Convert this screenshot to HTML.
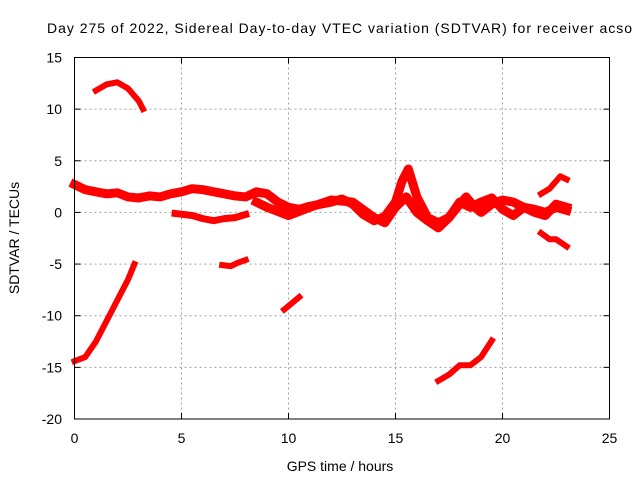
<!DOCTYPE html>
<html><head><meta charset="utf-8"><style>
body{margin:0;background:#fff}
svg text{font-family:"Liberation Sans",sans-serif;font-size:14px;fill:#000}
</style></head><body>
<svg id="chart" width="640" height="480" viewBox="0 0 640 480" xmlns="http://www.w3.org/2000/svg">
<text x="47" y="33" textLength="585" lengthAdjust="spacing">Day 275 of 2022, Sidereal Day-to-day VTEC variation (SDTVAR) for receiver acso</text>
<g id="grid"></g>
<g id="series"></g>
<rect x="74.5" y="57.5" width="535" height="361.5" fill="none" stroke="#000" stroke-width="1"/>
<g id="ticks"></g>
<text x="340" y="471" text-anchor="middle">GPS time / hours</text>
<text transform="translate(19,238) rotate(-90)" text-anchor="middle">SDTVAR / TECUs</text>
</svg>
<script>
const xTicks=[0,5,10,15,20,25];
const yTicks=[15,10,5,0,-5,-10,-15,-20];
const trackA=[[0,2.7],[0.5,2.2],[1,2.0],[1.5,1.8],[2,1.9],[2.5,1.5],[3,1.4],[3.5,1.6],[4,1.5],[4.5,1.8],[5,2.0],[5.5,2.3],[6,2.2],[6.5,2.0],[7,1.8],[7.5,1.6],[8,1.5],[8.5,2.0],[9,1.8],[9.5,1.0],[10,0.5],[10.5,0.3],[11,0.6],[11.5,0.8],[12,1.0],[12.5,1.3],[13,0.8],[13.5,-0.2],[14,-0.8],[14.5,-0.4],[15,1.0],[15.3,3.0],[15.6,4.2],[16,1.5],[16.5,-0.5],[17,-1.0],[17.5,-0.5],[18,0.8],[18.3,1.5],[18.7,0.5],[19,0.0],[19.5,0.8],[20,1.2],[20.5,1.0],[21,0.5],[21.5,0.3],[22,0.0],[22.5,0.5],[23,0.2]];
const trackA2=[[8.5,1.0],[9,0.5],[10,-0.3],[11,0.5],[12,1.2],[13,1.0],[14,-0.5],[14.5,-1.0],[15,0.5],[15.5,1.5],[16,0.0],[16.5,-0.8],[17,-1.5],[17.5,-0.5],[18,1.0],[18.5,0.5],[19,1.0],[19.5,1.4],[20,0.3],[20.5,-0.3],[21,0.5],[21.5,0.0],[22,-0.3],[22.5,0.8],[23,0.5]];
const trackB=[[4.7,-0.1],[5.5,-0.3],[6,-0.6],[6.5,-0.8],[7,-0.6],[7.5,-0.5],[8,-0.2]];
const trackC=[[1,11.8],[1.5,12.4],[2,12.6],[2.5,12.0],[3,10.8],[3.2,10.0]];
const trackD=[[0,-14.4],[0.5,-14.0],[1,-12.5],[1.5,-10.5],[2,-8.5],[2.5,-6.5],[2.8,-5.0]];
const trackE=[[6.9,-5.1],[7.3,-5.2],[7.6,-4.9],[8,-4.6]];
const trackF=[[9.8,-9.4],[10.5,-8.2]];
const trackG=[[17,-16.3],[17.5,-15.7],[18,-14.8],[18.5,-14.8],[19,-14.0],[19.5,-12.4]];
const trackH=[[21.8,-2.0],[22.2,-2.6],[22.5,-2.6],[23,-3.3]];
const trackI=[[21.8,1.8],[22.2,2.3],[22.7,3.5],[23,3.2]];
const tracks=[trackA,trackA2,trackB,trackC,trackD,trackE,trackF,trackG,trackH,trackI];
const widths=[9,9,7,6,6,6,6,6,6,6];

const NS="http://www.w3.org/2000/svg";
const X0=74.5,X1=609.5,Y0=419,Y1=57.5;
const xs=v=>X0+(v-0)/(25-0)*(X1-X0);
const ys=v=>Y0-(v+20)/(35)*(Y0-Y1);
const grid=document.getElementById('grid'),ticks=document.getElementById('ticks'),ser=document.getElementById('series');
function mk(tag,attrs,parent){const e=document.createElementNS(NS,tag);for(const k in attrs)e.setAttribute(k,attrs[k]);parent.appendChild(e);return e;}
xTicks.forEach(t=>{
  const x=xs(t);
  if(t>0&&t<25){const g=mk('line',{x1:x,x2:x,y1:Y1,y2:Y0,stroke:'#a0a0a0','stroke-dasharray':'2,3'},grid);
  
  }
  const a=mk('line',{x1:x,x2:x,y1:Y0,y2:Y0-6,stroke:'#000'},ticks);
  const b=mk('line',{x1:x,x2:x,y1:Y1,y2:Y1+6,stroke:'#000'},ticks);
  const l=mk('text',{x:x,y:443,'text-anchor':'middle'},ticks);l.textContent=t;
  
  
});
yTicks.forEach(t=>{
  const y=ys(t);
  if(t>-20&&t<15){const g=mk('line',{x1:X0,x2:X1,y1:y,y2:y,stroke:'#a0a0a0','stroke-dasharray':'2,3'},grid);
  
  }
  const a=mk('line',{x1:X0,x2:X0+6,y1:y,y2:y,stroke:'#000'},ticks);
  const b=mk('line',{x1:X1,x2:X1-6,y1:y,y2:y,stroke:'#000'},ticks);
  const l=mk('text',{x:62,y:y+5,'text-anchor':'end'},ticks);l.textContent=t;
  
  
});
tracks.forEach((tr,i)=>{
  const p=mk('polyline',{points:tr.map(d=>xs(d[0])+','+ys(d[1])).join(' '),fill:'none',stroke:'#ff0000','stroke-width':widths[i],'stroke-linejoin':'round','stroke-linecap':'square'},ser);
  
  
});
</script>
</body></html>
